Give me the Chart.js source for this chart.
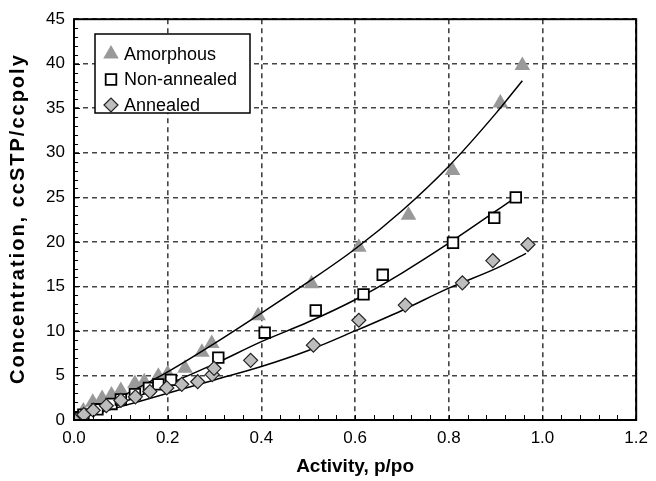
<!DOCTYPE html>
<html>
<head>
<meta charset="utf-8">
<script src="https://cdn.jsdelivr.net/npm/chart.js"></script>
<style>
  html, body { margin: 0; padding: 0; background: #fff; }
  #chart { display: block; }
</style>
</head>
<body>
<canvas id="chart" width="656" height="481"></canvas>
<script>
// data
const amorphX = [0, 0.02, 0.04, 0.06, 0.08, 0.10, 0.13, 0.15, 0.18, 0.20, 0.237, 0.273, 0.294, 0.393, 0.507, 0.608, 0.714, 0.808, 0.910, 0.957];
const amorphY = [0.2, 1.0, 2.0, 2.4, 2.8, 3.3, 4.1, 4.3, 4.9, 5.2, 5.8, 7.6, 8.6, 11.7, 15.3, 19.4, 23.0, 28.0, 35.6, 39.8];

const nonAnnX = [0, 0.02, 0.05, 0.08, 0.10, 0.13, 0.16, 0.18, 0.207, 0.308, 0.407, 0.516, 0.618, 0.659, 0.809, 0.897, 0.943];
const nonAnnY = [0.2, 0.6, 1.2, 1.8, 2.3, 2.9, 3.6, 4.0, 4.5, 7.0, 9.8, 12.3, 14.1, 16.3, 19.9, 22.7, 25.0];

const annX = [0, 0.021, 0.041, 0.069, 0.100, 0.131, 0.162, 0.198, 0.230, 0.264, 0.295, 0.299, 0.377, 0.511, 0.608, 0.707, 0.829, 0.894, 0.969];
const annY = [0, 0.6, 1.1, 1.6, 2.2, 2.6, 3.2, 3.6, 4.0, 4.3, 5.1, 5.8, 6.7, 8.4, 11.2, 12.9, 15.4, 17.9, 19.7];

// fitted curves as drawn
const fitAmorphX = [0, 0.1, 0.2, 0.3, 0.4, 0.5, 0.6, 0.7, 0.8, 0.9, 0.957];
const fitAmorphY = [0, 2.6, 5.4, 8.6, 12.0, 15.5, 19.2, 23.5, 28.5, 34.4, 38.1];
const fitNonAnnX = [0, 0.1, 0.2, 0.3, 0.4, 0.5, 0.6, 0.7, 0.8, 0.943];
const fitNonAnnY = [0, 1.9, 4.0, 6.3, 8.8, 11.0, 13.5, 16.5, 19.85, 25.0];
const fitAnnX = [0, 0.1, 0.2, 0.3, 0.4, 0.5, 0.6, 0.7, 0.8, 0.9, 0.965];
const fitAnnY = [0, 1.5, 3.0, 4.5, 6.0, 7.8, 10.0, 12.3, 14.8, 17.0, 18.7];

const xTicks = [0, 0.2, 0.4, 0.6, 0.8, 1.0, 1.2];
const yTicks = [0, 5, 10, 15, 20, 25, 30, 35, 40, 45];

const yTitle = "Concentration, ccSTP/ccpoly";

const pts = (xs, ys) => xs.map((x, i) => ({ x: x, y: ys[i] }));

const FONT = "'Liberation Sans', Arial, sans-serif";

function fitLine(xs, ys) {
    return {
        label: "",
        data: pts(xs, ys),
        showLine: true,
        borderColor: "#000",
        borderWidth: 1.5,
        pointRadius: 0,
        cubicInterpolationMode: "monotone",
        isFit: true
    };
}

// frame + inner tick marks + boxed legend + y title
const decor = {
    id: "decor",
    afterDatasetsDraw(chart) {
        const { ctx, chartArea: a, scales: { x, y } } = chart;
        ctx.save();
        ctx.strokeStyle = "#000";
        ctx.lineWidth = 1;
        ctx.beginPath();
        for (let v = 0; v <= 45.001; v += 1) {
            const py = Math.round(y.getPixelForValue(v)) + 0.5;
            ctx.moveTo(a.left, py);
            ctx.lineTo(a.left + (v % 5 === 0 ? 6 : 4), py);
        }
        for (let v = 0; v <= 1.2001; v += 0.04) {
            const px = Math.round(x.getPixelForValue(v)) + 0.5;
            ctx.moveTo(px, a.bottom);
            ctx.lineTo(px, a.bottom - 5);
        }
        ctx.stroke();
        ctx.lineWidth = 2;
        ctx.strokeRect(a.left, a.top, a.right - a.left, a.bottom - a.top);

        // legend
        const lx = 95, ly = 34, lw = 155, lh = 79;
        ctx.fillStyle = "#fff";
        ctx.fillRect(lx, ly, lw, lh);
        ctx.lineWidth = 1.5;
        ctx.strokeStyle = "#000";
        ctx.strokeRect(lx, ly, lw, lh);
        ctx.font = "18px " + FONT;
        ctx.textBaseline = "middle";
        ctx.textAlign = "left";
        const items = chart.data.datasets.filter(ds => !ds.isFit).reverse();
        items.forEach((ds, row) => {
            const cy = ly + 20 + row * 25.5;
            ctx.fillStyle = ds.pointBackgroundColor;
            ctx.strokeStyle = ds.pointBorderColor;
            ctx.lineWidth = ds.pointBorderWidth;
            Chart.helpers.drawPoint(ctx, {
                pointStyle: ds.pointStyle,
                radius: ds.pointRadius,
                borderWidth: ds.pointBorderWidth,
                rotation: 0
            }, lx + 16, cy);
            ctx.fillStyle = "#000";
            ctx.fillText(ds.label, lx + 29, cy + 1);
        });

        // y axis title
        ctx.translate(18, (a.top + a.bottom) / 2);
        ctx.rotate(-Math.PI / 2);
        ctx.font = "bold 20px " + FONT;
        ctx.letterSpacing = "2px";
        ctx.textAlign = "center";
        ctx.fillStyle = "#000";
        ctx.fillText(yTitle, 1, 0);
        ctx.restore();
    }
};

new Chart(document.getElementById("chart").getContext("2d"), {
    type: "scatter",
    data: {
        datasets: [
            {
                label: "Annealed",
                data: pts(annX, annY),
                pointStyle: "rectRot",
                pointRadius: 7,
                pointBackgroundColor: "#bdbdbd",
                pointBorderColor: "#222",
                pointBorderWidth: 1.2,
                order: 0
            },
            {
                label: "Non-annealed",
                data: pts(nonAnnX, nonAnnY),
                pointStyle: "rect",
                pointRadius: 7.5,
                pointBackgroundColor: "#fff",
                pointBorderColor: "#000",
                pointBorderWidth: 1.8,
                order: 1
            },
            Object.assign(fitLine(fitAmorphX, fitAmorphY), { order: 2 }),
            Object.assign(fitLine(fitNonAnnX, fitNonAnnY), { order: 2 }),
            Object.assign(fitLine(fitAnnX, fitAnnY), { order: 2 }),
            {
                label: "Amorphous",
                data: pts(amorphX, amorphY),
                pointStyle: "triangle",
                pointRadius: 9,
                pointBackgroundColor: "#999",
                pointBorderColor: "#999",
                pointBorderWidth: 0,
                order: 3
            }
        ]
    },
    options: {
        responsive: false,
        animation: false,
        layout: { padding: { top: 19, right: 16, left: 0, bottom: 0 } },
        plugins: {
            legend: { display: false },
            tooltip: { enabled: false }
        },
        scales: {
            x: {
                type: "linear",
                min: 0,
                max: 1.2,
                afterBuildTicks: s => { s.ticks = xTicks.map(v => ({ value: v })); },
                afterFit: s => { s.height = 61; },
                ticks: {
                    color: "#000",
                    font: { family: FONT, size: 17 },
                    padding: 8,
                    maxRotation: 0,
                    callback: v => v.toFixed(1)
                },
                grid: { color: "#444", lineWidth: 1.6, drawTicks: false },
                border: { display: false, dash: [5, 4] },
                title: {
                    display: true,
                    text: "Activity, p/po",
                    color: "#000",
                    font: { family: FONT, size: 19, weight: "bold" },
                    padding: { bottom: 3 }
                }
            },
            y: {
                type: "linear",
                min: 0,
                max: 45,
                afterBuildTicks: s => { s.ticks = yTicks.map(v => ({ value: v })); },
                afterFit: s => { s.width = 74; },
                ticks: {
                    color: "#000",
                    font: { family: FONT, size: 17 },
                    padding: 9
                },
                grid: { color: "#444", lineWidth: 1.6, drawTicks: false },
                border: { display: false, dash: [5, 4] },
                title: { display: false }
            }
        }
    },
    plugins: [decor]
});
</script>
</body>
</html>
